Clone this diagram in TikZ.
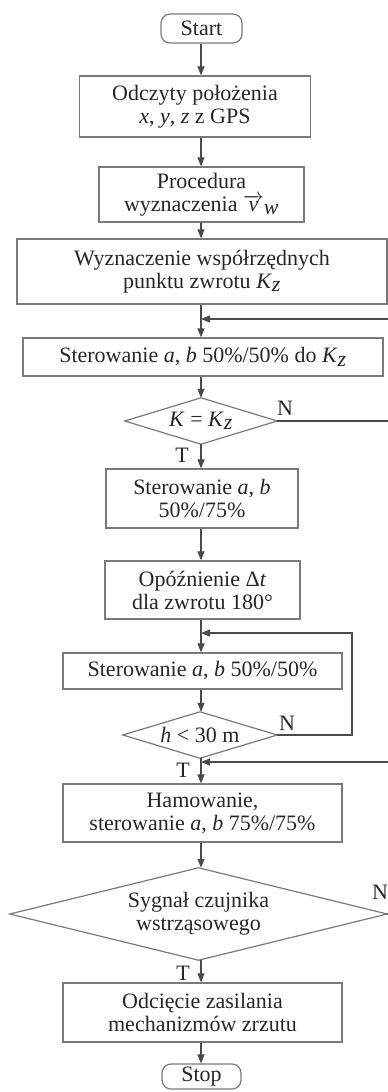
\documentclass[tikz,border=0pt]{standalone}
\usepackage{fontspec}
\setmainfont{Liberation Serif}
\usetikzlibrary{arrows.meta}
\definecolor{linegray}{HTML}{4A4A4A}
\definecolor{boxgray}{HTML}{7A7A7A}
\newcommand{\iv}[1]{\textit{#1}}
\newcommand{\isub}[1]{$_{\textit{#1}}$}
\begin{document}
\begin{tikzpicture}[x=1pt,y=-1pt,
  every node/.style={font=\fontsize{22}{23}\selectfont, inner sep=0pt, text=black!85},
  box/.style={draw=boxgray, line width=1.2pt, align=center},
  term/.style={box, rounded corners=9pt},
  dec/.style={align=center},
  dia/.style={draw=boxgray, line width=1.2pt, line join=miter},
  arr/.style={draw=linegray, line width=1.1pt, -{Triangle[length=9pt,width=7pt]}},
  lab/.style={font=\fontsize{22}{23}\selectfont}]
\useasboundingbox (0,0) rectangle (388,1092);
\coordinate (ax) at (201,0);
\coordinate (e1) at (394,0);
\coordinate (e2) at (352,0);
\coordinate (j1) at (201,319);
\coordinate (j2) at (201,633);
\coordinate (j3) at (201,762);

\node[term, minimum width=81, minimum height=29] (start) at (201.5,28.5) {Start};
\node[box, minimum width=231, minimum height=61] (b1) at (195,106.5) {Odczyty położenia\\ \iv{x}, \iv{y}, \iv{z} z GPS};
\node[box, minimum width=205, minimum height=55] (b2) at (201.5,194.5) {Procedura\\ wyznaczenia $\overrightarrow{\textit{v}}_{\textit{w}}$};
\node[box, minimum width=370, minimum height=65] (b3) at (202,271.5) {Wyznaczenie współrzędnych\\ punktu zwrotu \iv{K}\isub{z}};
\node[box, minimum width=360, minimum height=38] (b4) at (203,357) {Sterowanie \iv{a}, \iv{b} 50\%/50\% do \iv{K}\isub{z}};
\node[dec, minimum width=152, minimum height=46] (d1) at (201,421) {\iv{K} = \iv{K}\isub{z}};
\node[box, minimum width=192, minimum height=59] (b5) at (202,498.5) {Sterowanie \iv{a}, \iv{b}\\ 50\%/75\%};
\node[box, minimum width=195, minimum height=58] (b6) at (202.5,590) {Opóźnienie Δ\iv{t}\\ dla zwrotu 180°};
\node[box, minimum width=279, minimum height=36] (b7) at (202.5,671) {Sterowanie \iv{a}, \iv{b} 50\%/50\%};
\node[dec, minimum width=154, minimum height=46] (d2) at (200,735) {\iv{h} < 30 m};
\node[box, minimum width=279, minimum height=58] (b8) at (202.5,813) {Hamowanie,\\ sterowanie \iv{a}, \iv{b} 75\%/75\%};
\node[dec, minimum width=377, minimum height=92] (d3) at (198.5,914) {Sygnał czujnika\\ wstrząsowego};
\node[box, minimum width=279, minimum height=59] (b9) at (202.5,1012.5) {Odcięcie zasilania\\ mechanizmów zrzutu};
\node[term, minimum width=79, minimum height=25] (stop) at (201.5,1076.5) {Stop};

\draw[dia] (d1.north) -- (d1.east) -- (d1.south) -- (d1.west) -- cycle;
\draw[dia] (d2.north) -- (d2.east) -- (d2.south) -- (d2.west) -- cycle;
\draw[dia] (d3.north) -- (d3.east) -- (d3.south) -- (d3.west) -- cycle;

\node[lab] (n1) at (285,408) {N};
\node[lab] (t1) at (182,455) {T};
\node[lab] (n2) at (287,723) {N};
\node[lab] (t2) at (183,770) {T};
\node[lab] (n3) at (380,892) {N};
\node[lab] (t3) at (183,973) {T};

\draw[arr] (ax |- start.south) -- (ax |- b1.north);
\draw[arr] (ax |- b1.south) -- (ax |- b2.north);
\draw[arr] (ax |- b2.south) -- (ax |- b3.north);
\draw[arr] (ax |- b3.south) -- (ax |- b4.north);
\draw[arr] (ax |- b4.south) -- (d1.north);
\draw[arr] (d1.south) -- (ax |- b5.north);
\draw[arr] (ax |- b5.south) -- (ax |- b6.north);
\draw[arr] (ax |- b6.south) -- (ax |- b7.north);
\draw[arr] (ax |- b7.south) -- (ax |- d2.north);
\draw[arr] (ax |- d2.south) -- (ax |- b8.north);
\draw[arr] (ax |- b8.south) -- (ax |- d3.north);
\draw[arr] (ax |- d3.south) -- (ax |- b9.north);
\draw[arr] (ax |- b9.south) -- (ax |- stop.north);

\draw[arr] (d1.east) -| (e1 |- j1) -- (j1);
\draw[arr] (d2.east) -| (e2 |- j2) -- (j2);
\draw[arr] (d3.east) -| (e1 |- j3) -- (j3);
\end{tikzpicture}
\end{document}
